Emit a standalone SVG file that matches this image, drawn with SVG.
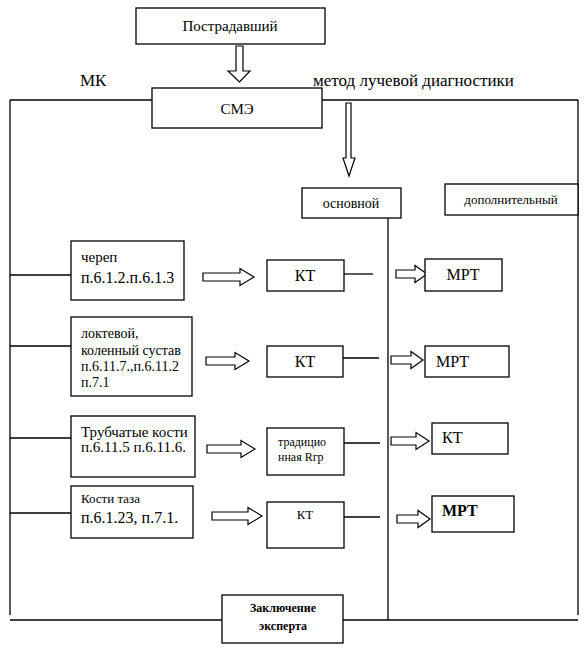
<svg xmlns="http://www.w3.org/2000/svg" width="585" height="652" viewBox="0 0 585 652">
<style>
.b{fill:#fff;stroke:#000;stroke-width:1.3}
.l{fill:none;stroke:#000;stroke-width:1.3}
.a{fill:#fff;stroke:#000;stroke-width:1.2}
.t{font-family:"Times New Roman","Liberation Serif",serif;fill:#000;stroke:none}
.c{text-anchor:middle}
</style>
<rect width="585" height="652" fill="#fff"/>
<g id="connectors">
<line class="l" x1="10" y1="100" x2="152" y2="100"/>
<line class="l" x1="322" y1="100" x2="578" y2="100"/>
<line class="l" x1="10" y1="100" x2="10" y2="615"/>
<line class="l" x1="578" y1="100" x2="578" y2="615"/>
<line class="l" x1="388" y1="218" x2="388" y2="620"/>
<line class="l" x1="10" y1="620" x2="222" y2="620"/>
<line class="l" x1="343" y1="620" x2="578" y2="620"/>
<line class="l" x1="10" y1="275" x2="71" y2="275"/>
<line class="l" x1="10" y1="346" x2="71" y2="346"/>
<line class="l" x1="10" y1="438" x2="71" y2="438"/>
<line class="l" x1="10" y1="513" x2="71" y2="513"/>
<line class="l" x1="344" y1="274" x2="373" y2="274"/>
<line class="l" x1="343" y1="358" x2="379" y2="358"/>
<line class="l" x1="344" y1="443" x2="380" y2="443"/>
<line class="l" x1="344" y1="517" x2="380" y2="517"/>
<polygon class="a" points="236,46 243,46 243,71 250,71 239.5,82 228,71 236,71"/>
<polygon class="a" points="346,103 351,103 351,158 355,158 349,176 343,158 346,158"/>
<polygon class="a" points="203,273 240,273 240,268.5 254,277 240,285.5 240,281 203,281"/>
<polygon class="a" points="396,270 415,270 415,265.5 427,274 415,282.5 415,278 396,278"/>
<polygon class="a" points="206,357 235,357 235,352.5 249,361 235,369.5 235,365 206,365"/>
<polygon class="a" points="391,356 411,356 411,351.5 423,360 411,368.5 411,364 391,364"/>
<polygon class="a" points="207,445 241,445 241,440.5 255,449 241,457.5 241,453 207,453"/>
<polygon class="a" points="391,437 416,437 416,432.5 429,441 416,449.5 416,445 391,445"/>
<polygon class="a" points="212,512 248,512 248,507.5 262,516 248,524.5 248,520 212,520"/>
<polygon class="a" points="397,515 418,515 418,510.5 430,519 418,527.5 418,523 397,523"/>
</g>
<g id="n-victim"><rect class="b" x="136" y="8" width="189" height="36"/><text class="t c" x="230" y="31" font-size="15" font-family="Times New Roman">Пострадавший</text></g>
<g id="n-mk"><text class="t" x="80" y="86" font-size="17" font-family="Times New Roman">МК</text></g>
<g id="n-method"><text class="t" x="313" y="86" font-size="17" font-family="Times New Roman">метод лучевой диагностики</text></g>
<g id="n-sme"><rect class="b" x="152" y="88" width="170" height="40"/><text class="t c" x="237" y="114" font-size="15" font-family="Times New Roman">СМЭ</text></g>
<g id="n-main"><rect class="b" x="302" y="188" width="99" height="30"/><text class="t c" x="351" y="208" font-size="14" font-family="Times New Roman">основной</text></g>
<g id="n-extra"><rect class="b" x="445" y="184" width="133" height="31"/><text class="t c" x="511" y="204" font-size="13" font-family="Times New Roman">дополнительный</text></g>
<g id="n-skull"><rect class="b" x="71" y="241" width="113" height="59"/><text class="t" x="81" y="262" font-size="15" font-family="Times New Roman">череп</text><text class="t" x="81" y="283" font-size="16" font-family="Times New Roman">п.6.1.2.п.6.1.3</text></g>
<g id="n-kt1"><rect class="b" x="267" y="260" width="77" height="31"/><text class="t c" x="305" y="281" font-size="16" font-family="Times New Roman">КТ</text></g>
<g id="n-mrt1"><rect class="b" x="425" y="259" width="77" height="32"/><text class="t c" x="463" y="280" font-size="16" font-family="Times New Roman">МРТ</text></g>
<g id="n-joint"><rect class="b" x="71" y="317" width="121" height="79"/><text class="t" x="81" y="338" font-size="14" font-family="Times New Roman">локтевой,</text><text class="t" x="81" y="355" font-size="14" font-family="Times New Roman">коленный сустав</text><text class="t" x="81" y="371" font-size="14" font-family="Times New Roman">п.6.11.7.,п.6.11.2</text><text class="t" x="81" y="387" font-size="14" font-family="Times New Roman">п.7.1</text></g>
<g id="n-kt2"><rect class="b" x="267" y="346" width="76" height="31"/><text class="t c" x="305" y="367" font-size="16" font-family="Times New Roman">КТ</text></g>
<g id="n-mrt2"><rect class="b" x="425" y="346" width="84" height="31"/><text class="t" x="436" y="367" font-size="16" font-family="Times New Roman">МРТ</text></g>
<g id="n-tube"><rect class="b" x="71" y="416" width="124" height="61"/><text class="t" x="81" y="437" font-size="15" font-family="Times New Roman">Трубчатые кости</text><text class="t" x="81" y="452" font-size="15" font-family="Times New Roman">п.6.11.5 п.6.11.6.</text></g>
<g id="n-rtg"><rect class="b" x="267" y="428" width="77" height="47"/><text class="t" x="278" y="446" font-size="12" font-family="Times New Roman">традицио</text><text class="t" x="278" y="461" font-size="12" font-family="Times New Roman">нная Rгр</text></g>
<g id="n-kt3"><rect class="b" x="432" y="423" width="76" height="31"/><text class="t" x="442" y="443" font-size="16" font-family="Times New Roman">КТ</text></g>
<g id="n-pelvis"><rect class="b" x="71" y="486" width="122" height="52"/><text class="t" x="81" y="503" font-size="13" font-family="Times New Roman">Кости таза</text><text class="t" x="81" y="523" font-size="16" font-family="Times New Roman">п.6.1.23, п.7.1.</text></g>
<g id="n-kt4"><rect class="b" x="267" y="502" width="77" height="46"/><text class="t c" x="305" y="519" font-size="13" font-family="Times New Roman">КТ</text></g>
<g id="n-mrt4"><rect class="b" x="432" y="496" width="82" height="36"/><text class="t" x="442" y="516" font-size="16" font-weight="bold" font-family="Times New Roman">МРТ</text></g>
<g id="n-concl"><rect class="b" x="222" y="595" width="121" height="48"/><text class="t c" x="283" y="612" font-size="12" font-weight="bold" font-family="Times New Roman">Заключение</text><text class="t c" x="283" y="630" font-size="12" font-weight="bold" font-family="Times New Roman">эксперта</text></g>
</svg>
